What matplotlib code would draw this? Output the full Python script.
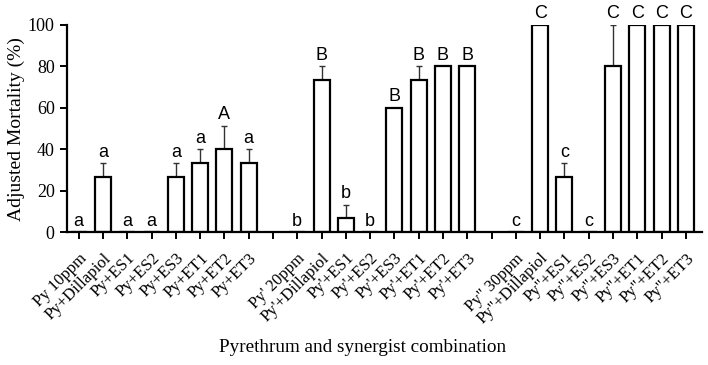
import matplotlib.pyplot as plt
import numpy as np

# bar data, three concentration groups
labels = ['Py 10ppm', 'Py+Dillapiol', 'Py+ES1', 'Py+ES2', 'Py+ES3', 'Py+ET1', 'Py+ET2', 'Py+ET3', '',
          "Py' 20ppm", "Py'+Dillapiol", "Py'+ES1", "Py'+ES2", "Py'+ES3", "Py'+ET1", "Py'+ET2", "Py'+ET3", '',
          'Py" 30ppm', 'Py"+Dillapiol', 'Py"+ES1', 'Py"+ES2', 'Py"+ES3', 'Py"+ET1', 'Py"+ET2', 'Py"+ET3']
mortality = [0, 26.7, 0, 0, 26.7, 33.3, 40, 33.3, None,
             0, 73.3, 6.7, 0, 60, 73.3, 80, 80, None,
             0, 100, 26.7, 0, 80, 100, 100, 100]
err = [0, 6.7, 0, 0, 6.7, 6.7, 11.5, 6.7, None,
       0, 6.7, 6.7, 0, 0, 6.7, 0, 0, None,
       0, 0, 6.7, 0, 20, 0, 0, 0]
letters = ['a', 'a', 'a', 'a', 'a', 'a', 'A', 'a', '',
           'b', 'B', 'b', 'b', 'B', 'B', 'B', 'B', '',
           'c', 'C', 'c', 'c', 'C', 'C', 'C', 'C']

fig = plt.figure(figsize=(7.08, 3.65), dpi=100)
ax = fig.add_axes([0.094, 0.3636, 0.897, 0.568])

x = [i for i, v in enumerate(mortality) if v is not None]
y = [mortality[i] for i in x]
e = [err[i] for i in x]

ax.bar(x, y, width=0.66, color='white', edgecolor='black', linewidth=1.6, zorder=2)
ax.errorbar(x, y, yerr=[np.zeros(len(e)), e], fmt='none', ecolor='#333333',
            elinewidth=1.0, capsize=2.5, capthick=1.0, zorder=1)

for i in x:
    top = mortality[i] + err[i]
    ax.text(i, top + 1.2, letters[i], ha='center', va='bottom', fontsize=13,
            family='Liberation Sans', clip_on=False)

ax.set_xlim(-0.5, 25.65)
ax.set_ylim(0, 100)
ax.set_yticks([0, 20, 40, 60, 80, 100])
ax.set_xticks(range(len(labels)))
ax.set_xticklabels(labels, rotation=45, ha='right', rotation_mode='anchor',
                   family='Liberation Serif', fontsize=12)
for t in ax.get_yticklabels():
    t.set_family('Liberation Serif')
    t.set_fontsize(13)

ax.spines['top'].set_visible(False)
ax.spines['right'].set_visible(False)
ax.spines['left'].set_linewidth(1.6)
ax.spines['bottom'].set_linewidth(1.6)
ax.tick_params(direction='out', length=5, width=1.4)
ax.tick_params(axis='x', pad=8)

ax.set_ylabel('Adjusted Mortality (%)', family='Liberation Serif', fontsize=14)
ax.yaxis.set_label_coords(-0.066, 0.5)
fig.text(0.512, 0.035, 'Pyrethrum and synergist combination', ha='center',
         family='Liberation Serif', fontsize=13.8)

plt.savefig('out.png', dpi=100)
